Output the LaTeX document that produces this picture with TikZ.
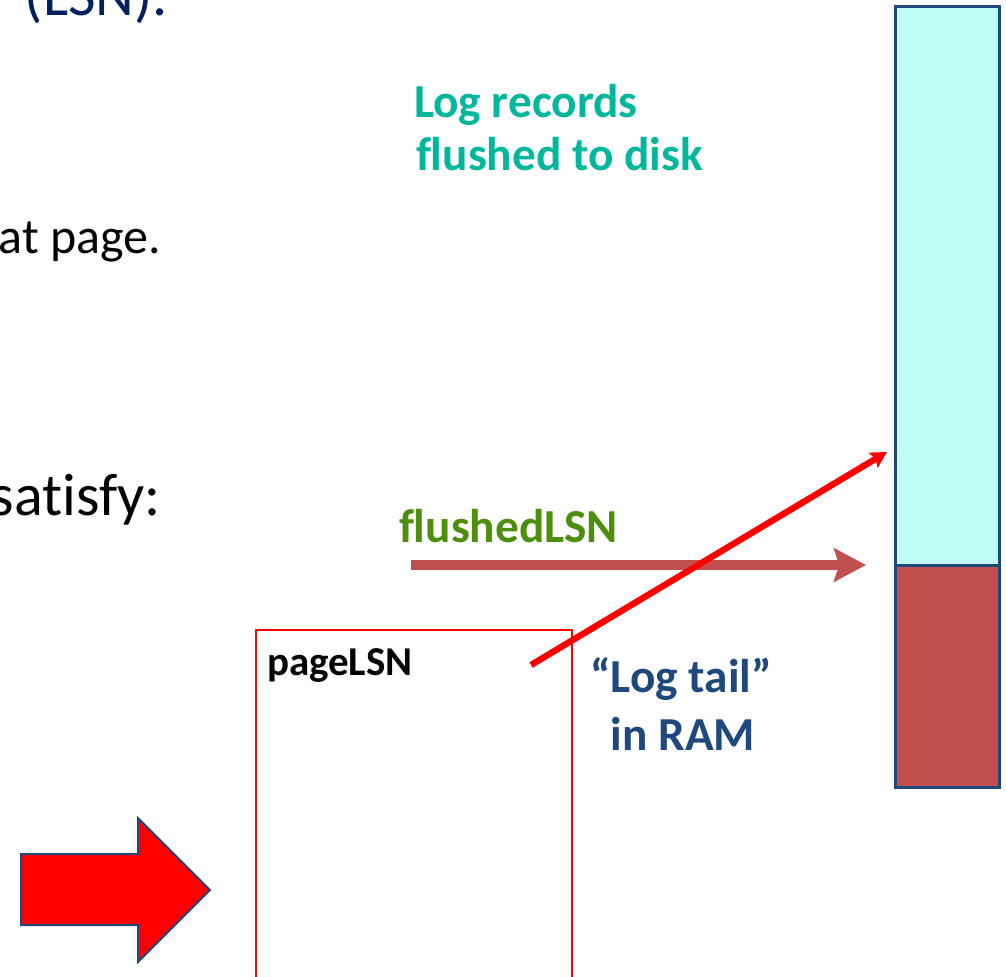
\documentclass[tikz,border=0pt]{standalone}
\usepackage{fontspec}
\setmainfont{Carlito}[Ligatures=NoCommon]
\usetikzlibrary{arrows.meta}
\definecolor{navy}{RGB}{0,32,96}
\definecolor{tealtxt}{RGB}{0,183,158}
\definecolor{greentxt}{RGB}{77,142,12}
\definecolor{darkblue}{RGB}{31,73,125}
\definecolor{brick}{RGB}{192,80,77}
\definecolor{lightcyan}{RGB}{191,255,248}
\definecolor{purered}{RGB}{255,0,0}
\tikzset{
  txt/.style={inner sep=0pt, outer sep=0pt},
  big/.style={txt, font=\fontsize{45pt}{54pt}\selectfont},
  mid/.style={txt, font=\fontsize{37.5pt}{45pt}\selectfont},
  lbl/.style={txt, font=\fontsize{35.5pt}{42pt}\selectfont\bfseries},
  pagelbl/.style={txt, font=\fontsize{30.75pt}{37pt}\selectfont\bfseries},
  diskpart/.style={draw=darkblue, line width=2.25pt},
  pagebox/.style={draw=purered, line width=2pt},
  flusharrow/.style={brick, line width=7.5pt, -{Stealth[length=24pt, width=25pt, inset=4pt]}},
  tailarrow/.style={purered, line width=4.8pt, -{Stealth[length=12pt, width=13pt, inset=2pt]}},
  blockarrow/.style={fill=purered, draw=darkblue, line width=1.5pt, line join=miter}
}
\begin{document}
\begin{tikzpicture}[x=0.75pt, y=-0.75pt]
\useasboundingbox (0,0) rectangle (1006,976);
\clip (0,0) rectangle (1006,976);
% left slide text (partly cut, as in the reference)
\node[big, navy, anchor=base east] (lsn) at (168,15) {(LSN).};
\node[mid, black, anchor=base east] (atpage) at (161,253) {at page.};
\node[big, black, anchor=base east] (satisfy) at (161,515) {satisfy:};
% disk column
\path[diskpart, fill=lightcyan] (895,6) rectangle (999,565);
\path[diskpart, fill=brick] (895,565) rectangle (999,787);
\coordinate (diskmid) at (887,452);
\coordinate (flushtip) at (866,565);
% labels
\node[lbl, tealtxt, anchor=base west] (logrec1) at (414,117) {Log records};
\node[lbl, tealtxt, anchor=base west] (logrec2) at (416,170) {flushed to disk};
\node[lbl, greentxt, anchor=base west] (flushed) at (399,542) {flushedLSN};
\node[lbl, darkblue, anchor=base] (tail1) at (681,692) {“Log tail”};
\node[lbl, darkblue, anchor=base] (tail2) at (683,750) {in RAM};
% page box
\path[pagebox] (256,630) rectangle (572,1000);
\node[pagelbl, black, anchor=base west] (pagelsn) at (267,675) {pageLSN};
\coordinate (pagept) at (531,665);
\coordinate (flushstart) at (411,565);
% arrows
\draw[flusharrow] (flushstart) -- (flushtip);
\draw[tailarrow] (pagept) -- (diskmid);
% big block arrow
\path[blockarrow] (21,854) -- (138,854) -- (138,818) -- (210,890) -- (138,962) -- (138,925) -- (21,925) -- cycle;
\end{tikzpicture}
\end{document}
